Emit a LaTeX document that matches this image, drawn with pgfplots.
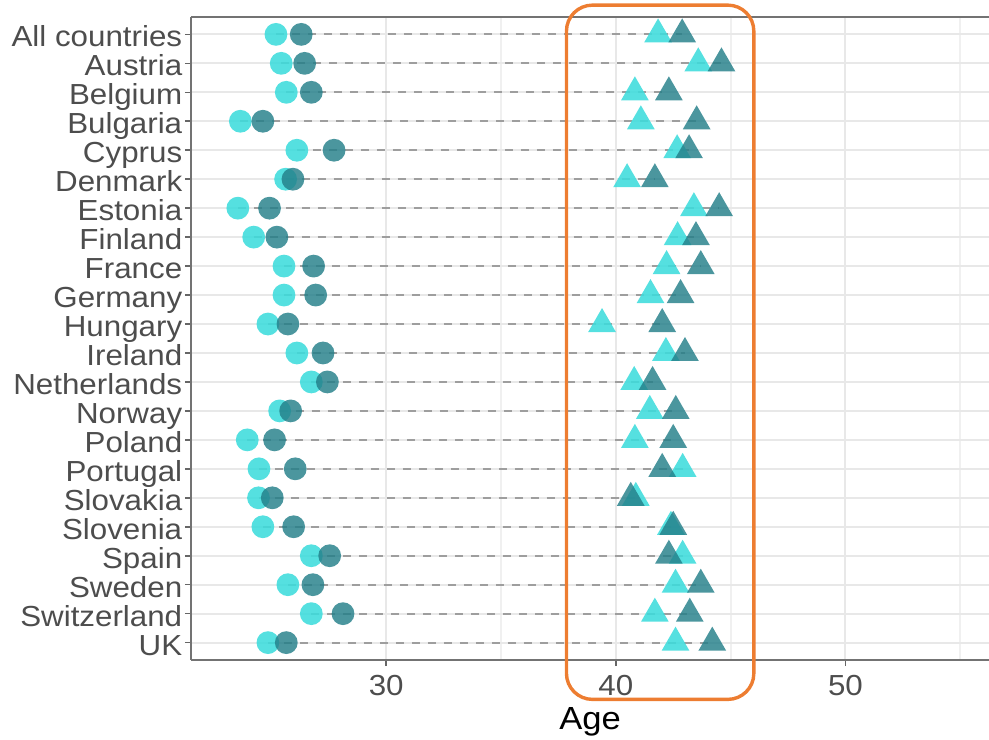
\documentclass[border=0pt]{standalone}
\usepackage{pgfplots}
\usepackage{pgfplotstable}
\pgfplotsset{compat=1.18}
\usepackage{fontspec}
\setmainfont[FakeStretch=1.08]{Liberation Sans}
\definecolor{lightc}{HTML}{3DDCDC}
\definecolor{darkc}{HTML}{237F89}
\definecolor{boxc}{HTML}{ED7D31}
\definecolor{txt}{HTML}{4D4D4D}

\pgfplotstableread{
y  lc    dc    lt    dt    lo    hi
0  25.2  26.3  41.84 42.89 25.2  42.89
1  25.43 26.45 43.59 44.6  25.43 44.6
2  25.65 26.74 40.83 42.31 25.65 42.31
3  23.65 24.63 41.09 43.52 23.65 43.52
4  26.11 27.73 42.67 43.19 26.11 43.19
5  25.62 25.94 40.49 41.70 25.62 41.70
6  23.54 24.92 43.40 44.5  23.54 44.5
7  24.23 25.24 42.69 43.49 24.23 43.49
8  25.55 26.84 42.21 43.70 25.55 43.70
9  25.55 26.93 41.51 42.82 25.55 42.82
10 24.85 25.72 39.40 42.02 24.85 42.02
11 26.11 27.25 42.18 43.01 26.11 43.01
12 26.74 27.44 40.80 41.60 26.74 41.60
13 25.36 25.84 41.48 42.61 25.36 42.61
14 23.95 25.14 40.83 42.50 23.95 42.50
15 24.46 26.04 42.91 42.02 24.46 42.91
16 24.44 25.04 40.87 40.65 24.44 40.87
17 24.63 25.97 42.40 42.50 24.63 42.50
18 26.74 27.54 42.91 42.31 26.74 42.91
19 25.72 26.81 42.60 43.70 25.72 43.70
20 26.74 28.12 41.70 43.22 26.74 43.22
21 24.85 25.65 42.60 44.20 24.85 44.20
}\data

\begin{document}
\begin{tikzpicture}
\begin{axis}[
  name=ax,
  scale only axis,
  width=399pt, height=321.5pt,
  xmin=21.5, xmax=56.25,
  ymin=-0.6, ymax=21.6,
  y dir=reverse,
  clip=false,
  separate axis lines,
  axis x line=box,
  axis y line=left,
  axis line style={-, draw=black!55, line width=0.8pt},
  xtick={30,40,50},
  minor xtick={35,45,55},
  minor tick length=0pt,
  xtick pos=bottom,
  ytick={0,...,21},
  yticklabels={All countries,Austria,Belgium,Bulgaria,Cyprus,Denmark,Estonia,Finland,France,Germany,Hungary,Ireland,Netherlands,Norway,Poland,Portugal,Slovakia,Slovenia,Spain,Sweden,Switzerland,UK},
  tick align=outside,
  major tick length=3pt,
  tick style={draw=black!60, line width=0.8pt},
  xmajorgrids, xminorgrids, ymajorgrids,
  major grid style={draw=black!9, line width=1pt},
  minor grid style={draw=black!6, line width=0.9pt},
  /pgf/number format/assume math mode=true,
  ticklabel style={font=\fontsize{14.5}{14.5}\selectfont, text=txt},
  yticklabel style={text height=10.4pt, text depth=0pt, inner sep=1.2pt, yshift=-1pt},
  xticklabel style={yshift=-1pt},
  xlabel={Age},
  xlabel style={font=\fontsize{16}{16}\selectfont, text=black, yshift=1pt},
]
\addplot[only marks, mark=*, mark size=5.7pt, color=lightc, mark options={draw opacity=0, fill=lightc, fill opacity=0.88}] table[x=lc, y=y] {\data};
\addplot[only marks, mark=*, mark size=5.7pt, color=darkc, mark options={draw opacity=0, fill=darkc, fill opacity=0.82}] table[x=dc, y=y] {\data};
\addplot[only marks, mark=triangle*, mark size=8pt, color=lightc, mark options={draw opacity=0, fill=lightc, fill opacity=0.88}] table[x=lt, y=y] {\data};
\addplot[only marks, mark=triangle*, mark size=8pt, color=darkc, mark options={draw opacity=0, fill=darkc, fill opacity=0.82}] table[x=dt, y=y] {\data};
\addplot[quiver={u=\thisrow{hi}-\thisrow{lo}, v=0}, draw=black!38, line width=1.1pt, dash pattern=on 4pt off 4pt] table[x=lo, y=y] {\data};
\draw[boxc, line width=1.7pt, rounded corners=13pt] (axis cs:37.85,-1.01) rectangle (axis cs:46.01,22.96);
\end{axis}
\pgfresetboundingbox
\path ([xshift=-95.5pt,yshift=-40pt]ax.south west) rectangle ([yshift=8.5pt]ax.north east);
\end{tikzpicture}
\end{document}
